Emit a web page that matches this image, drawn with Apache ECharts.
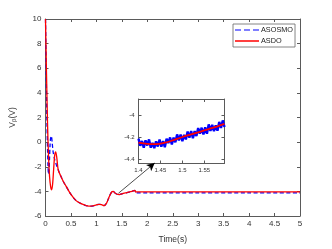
<!DOCTYPE html>
<html><head><meta charset="utf-8">
<script src="https://cdn.jsdelivr.net/npm/echarts@6/dist/echarts.min.js"></script>
<style>html,body{margin:0;padding:0;background:#fff}#c{width:332px;height:249px}</style>
</head><body><div id="c"></div>
<script>
// ---- data ----
const xTicks = [0, 0.5, 1, 1.5, 2, 2.5, 3, 3.5, 4, 4.5, 5];
const yTicks = [-6, -4, -2, 0, 2, 4, 6, 8, 10];
const blueTime = [0,0.01,0.02,0.03,0.04,0.05,0.06,0.07,0.08,0.09,0.10,0.115,0.13,0.15,0.18,0.21,0.25,0.3,0.35,0.4,0.5,0.6,0.7,0.8,0.9,1.0,1.05,1.1,1.15,1.2,1.25,1.3,1.33,1.37,1.42,1.45,1.5,1.6,1.7,1.755,1.77,1.8,2,3,4,5];
const blueVal  = [10,7,4,1.5,-0.5,-2.0,-2.6,-2.3,-1.2,-0.2,0.3,0.5,0.0,-0.8,-1.4,-1.8,-2.25,-2.75,-3.2,-3.55,-4.25,-4.75,-5.0,-5.15,-5.2,-5.1,-5.05,-5.08,-5.15,-4.95,-4.45,-4.05,-4.0,-4.15,-4.25,-4.26,-4.2,-4.1,-4.0,-3.92,-4.12,-4.12,-4.12,-4.12,-4.12,-4.12];
const redTime = [0,0.02,0.04,0.06,0.08,0.1,0.12,0.14,0.16,0.18,0.2,0.22,0.25,0.3,0.35,0.4,0.5,0.6,0.7,0.8,0.9,1.0,1.05,1.1,1.15,1.2,1.25,1.3,1.33,1.37,1.42,1.45,1.5,1.6,1.7,1.755,1.77,1.8,2,3,4,5];
const redVal  = [10,5.5,1.5,-1.2,-2.8,-3.6,-3.88,-3.4,-2.2,-1.1,-0.8,-1.2,-2.25,-2.75,-3.2,-3.55,-4.25,-4.75,-5.0,-5.15,-5.2,-5.1,-5.05,-5.08,-5.15,-4.95,-4.45,-4.05,-4.0,-4.15,-4.25,-4.26,-4.2,-4.1,-4.0,-3.92,-4.05,-4.04,-4.04,-4.04,-4.04,-4.04];
// inset (zoom 1.4 .. 1.596)
const insetXTicks = [1.4, 1.45, 1.5, 1.55];
const insetYTicks = [-4.4, -4.2, -4];
const insetBlueTime = [1.400,1.404,1.408,1.412,1.416,1.420,1.424,1.428,1.432,1.436,1.440,1.444,1.448,1.452,1.456,1.460,1.464,1.468,1.472,1.476,1.480,1.484,1.488,1.492,1.496,1.500,1.504,1.508,1.512,1.516,1.520,1.524,1.528,1.532,1.536,1.540,1.544,1.548,1.552,1.556,1.560,1.564,1.568,1.572,1.576,1.580,1.584,1.588,1.592,1.596];
const insetBlueVal = [-4.215,-4.280,-4.236,-4.296,-4.230,-4.277,-4.222,-4.297,-4.253,-4.301,-4.239,-4.286,-4.223,-4.287,-4.238,-4.293,-4.215,-4.255,-4.204,-4.268,-4.206,-4.248,-4.177,-4.230,-4.179,-4.238,-4.181,-4.222,-4.150,-4.206,-4.147,-4.212,-4.147,-4.192,-4.119,-4.169,-4.116,-4.177,-4.113,-4.171,-4.086,-4.144,-4.089,-4.147,-4.094,-4.143,-4.063,-4.118,-4.050,-4.110];
const insetRedTime = [1.40,1.42,1.44,1.46,1.48,1.50,1.52,1.54,1.56,1.58,1.596];
const insetRedVal  = [-4.250,-4.262,-4.265,-4.252,-4.228,-4.200,-4.177,-4.153,-4.128,-4.104,-4.082];
const arrowFrom = [1.434, -4.15];
const arrowTo = [2.146, -1.70];

const zip = (a, b) => a.map((v, i) => [v, b[i]]);
const axisCol = '#5a5a5a';
const txtCol = '#333';
const F = 'Liberation Sans, Arial, sans-serif';

const chart = echarts.init(document.getElementById('c'), null, {renderer: 'canvas'});
function ax(grid, min, max, pos, showLabel, fs, ticks) {
  return {
    type: 'value', gridIndex: grid, min, max, position: pos,
    axisLine: {show: true, onZero: false, lineStyle: {color: axisCol, width: 1}},
    axisTick: {show: true, inside: true, length: 3, customValues: ticks, lineStyle: {color: axisCol}},
    splitLine: {show: false},
    axisLabel: {show: showLabel, color: txtCol, fontSize: fs, fontFamily: F, margin: 4,
      customValues: ticks, formatter: v => String(+v.toFixed(3))}
  };
}
const option = {
  animation: false,
  backgroundColor: '#fff',
  grid: [
    {left: 43, top: 19, width: 257, height: 202, show: false},
    {left: 138.5, top: 99, width: 86, height: 64.5, show: true, backgroundColor: '#fff', borderWidth: 0}
  ],
  legend: {
    left: 233, top: 24, orient: 'vertical', itemWidth: 24, itemHeight: 1.5, itemGap: 1,
    padding: [1, 2, 1, 2],
    backgroundColor: '#fff', borderColor: '#666', borderWidth: 0.8,
    textStyle: {fontSize: 7.3, lineHeight: 10, color: '#222', fontFamily: F, padding: [0, 0, 0, -3]},
    data: [
      {name: 'ASOSMO', icon: 'path://M0,0 L6,0 L6,1 L0,1 Z M9,0 L15,0 L15,1 L9,1 Z M18,0 L24,0 L24,1 L18,1 Z'},
      {name: 'ASDO', icon: 'rect'}
    ]
  },
  xAxis: [
    Object.assign(ax(0, 0, 5, 'bottom', true, 8, xTicks), {name: 'Time(s)', nameLocation: 'middle', nameGap: 19, nameTextStyle: {fontSize: 8.5, color: txtCol, fontFamily: F}}),
    ax(0, 0, 5, 'top', false, 8, xTicks),
    ax(1, 1.4, 1.596, 'bottom', true, 6, insetXTicks),
    ax(1, 1.4, 1.596, 'top', false, 6, insetXTicks)
  ],
  yAxis: [
    Object.assign(ax(0, -6, 10, 'left', true, 8, yTicks), {
      name: 'V{s|β}(V)', nameLocation: 'middle', nameGap: 28, nameRotate: 90,
      nameTextStyle: {fontSize: 8.5, color: txtCol, fontFamily: F, rich: {s: {fontSize: 6, color: txtCol, fontFamily: F, verticalAlign: 'bottom', padding: [4, 0, 0, 0]}}}}),
    ax(0, -6, 10, 'right', false, 8, yTicks),
    ax(1, -4.44, -3.856, 'left', true, 6, insetYTicks),
    ax(1, -4.44, -3.856, 'right', false, 6, insetYTicks)
  ],
  series: [
    {name: 'ASOSMO', type: 'line', xAxisIndex: 0, yAxisIndex: 0, data: zip(blueTime, blueVal), smooth: 0.3,
      symbol: 'none', color: '#0000ff', lineStyle: {color: '#0000ff', width: 1.3, type: [4, 2.5]}, z: 3},
    {name: 'ASDO', type: 'line', xAxisIndex: 0, yAxisIndex: 0, data: zip(redTime, redVal), smooth: 0.3,
      symbol: 'none', color: '#ff0000', lineStyle: {color: '#ff0000', width: 1.3}, z: 4,
      markLine: {silent: true, symbol: ['none', 'arrow'], symbolSize: [6, 8], label: {show: false},
        lineStyle: {color: '#000', width: 0.7, type: 'solid'},
        data: [[{coord: arrowFrom}, {coord: arrowTo}]]}},
    {name: 'ASOSMO-inset', type: 'line', xAxisIndex: 2, yAxisIndex: 2, data: zip(insetBlueTime, insetBlueVal),
      symbol: 'none', lineStyle: {color: '#0000ff', width: 2.4}, z: 5},
    {name: 'ASDO-inset', type: 'line', xAxisIndex: 2, yAxisIndex: 2, data: zip(insetRedTime, insetRedVal), smooth: 0.4,
      symbol: 'none', lineStyle: {color: '#ff0000', width: 1.8}, z: 6}
  ]
};
chart.setOption(option);
</script></body></html>
